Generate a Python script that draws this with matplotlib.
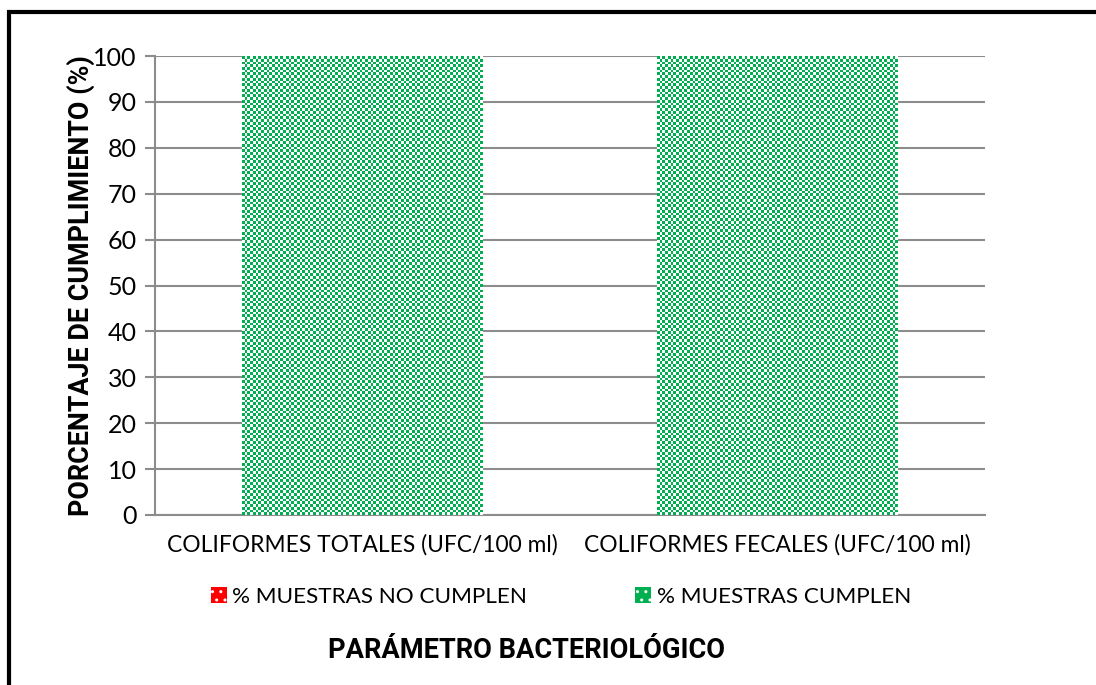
import numpy as np
import matplotlib
matplotlib.use("Agg")
import matplotlib.pyplot as plt
from matplotlib.patches import Rectangle, Patch

# Data
categories = ["COLIFORMES TOTALES (UFC/100 ml)", "COLIFORMES FECALES (UFC/100 ml)"]
no_cumplen = [0, 0]
cumplen = [100, 100]
series_names = ["% MUESTRAS NO CUMPLEN", "% MUESTRAS CUMPLEN"]
y_ticks = [0, 10, 20, 30, 40, 50, 60, 70, 80, 90, 100]

GREEN = "#00B050"
RED = "#FF0000"
GRID = "#8C8C8C"

plt.rcParams["font.family"] = ["Lato", "DejaVu Sans"]
BOLD_FAMILY = ["Roboto", "DejaVu Sans"]

W, H, DPI = 1096, 685, 100
fig = plt.figure(figsize=(W / DPI, H / DPI), dpi=DPI)
ax = fig.add_axes([155 / W, 1 - 515 / H, 830 / W, 459 / H])

x = np.arange(len(categories))
bar_w = 0.58
b_red = ax.bar(x, no_cumplen, bar_w, color=RED, zorder=3)
b_green = ax.bar(x, cumplen, bar_w, bottom=no_cumplen, color=GREEN, zorder=3)

ax.set_xlim(-0.5, len(categories) - 0.5)
ax.set_ylim(0, 100)
ax.set_yticks(y_ticks)
ax.set_xticks(x)
ax.set_xticklabels(categories, fontsize=16.4)
ax.tick_params(axis="x", length=0, pad=14)
ax.tick_params(axis="y", length=7, width=1.5, color=GRID, labelsize=18, pad=6)
ax.yaxis.grid(True, color=GRID, linewidth=1.5, zorder=0)
for s in ["top", "right"]:
    ax.spines[s].set_visible(False)
for s in ["left", "bottom"]:
    ax.spines[s].set_color(GRID)
    ax.spines[s].set_linewidth(1.5)
ax.set_ylabel("PORCENTAJE DE CUMPLIMIENTO (%)", fontsize=19.4, fontweight="bold",
              family=BOLD_FAMILY, labelpad=-1)

# Checkerboard texture for the "cumplen" bars, clipped to each bar
fig.canvas.draw()
cell_px = 2.75
for patch in b_green.patches:
    x0, y0 = patch.get_x(), patch.get_y()
    w, h = patch.get_width(), patch.get_height()
    p0 = ax.transData.transform((x0, y0))
    p1 = ax.transData.transform((x0 + w, y0 + h))
    nx = max(1, int(round((p1[0] - p0[0]) / cell_px)))
    ny = max(1, int(round((p1[1] - p0[1]) / cell_px)))
    ii, jj = np.meshgrid(np.arange(nx), np.arange(ny))
    mask = (ii + jj) % 2 == 0
    img = np.ones((ny, nx, 3))
    img[mask] = np.array(matplotlib.colors.to_rgb(GREEN))
    im = ax.imshow(img, extent=(x0, x0 + w, y0, y0 + h), origin="lower",
                   interpolation="nearest", aspect="auto", zorder=4)
    im.set_clip_path(patch)
ax.set_aspect("auto")
ax.set_xlim(-0.5, len(categories) - 0.5)
ax.set_ylim(0, 100)

# Legend
handles = [
    Patch(facecolor=RED, edgecolor="white", hatch="..", linewidth=0),
    Patch(facecolor=GREEN, edgecolor="white", hatch="..", linewidth=0),
]
fig.legend(handles, series_names, loc="center", bbox_to_anchor=(561 / W, 1 - 597 / H),
           ncol=2, frameon=False, fontsize=16.2, handlelength=0.7, handleheight=0.7,
           handletextpad=0.25, columnspacing=4.8)

fig.text(527 / W, 1 - 650 / H, "PARÁMETRO BACTERIOLÓGICO", ha="center", va="center",
         fontsize=19.6, fontweight="bold", family=BOLD_FAMILY)

# Chart border
fig.patches.append(Rectangle((9 / W, -0.05), 1.2, 1 - 11.5 / H + 0.05,
                             transform=fig.transFigure, fill=False,
                             edgecolor="black", linewidth=3))

fig.savefig("out.png", dpi=DPI)
